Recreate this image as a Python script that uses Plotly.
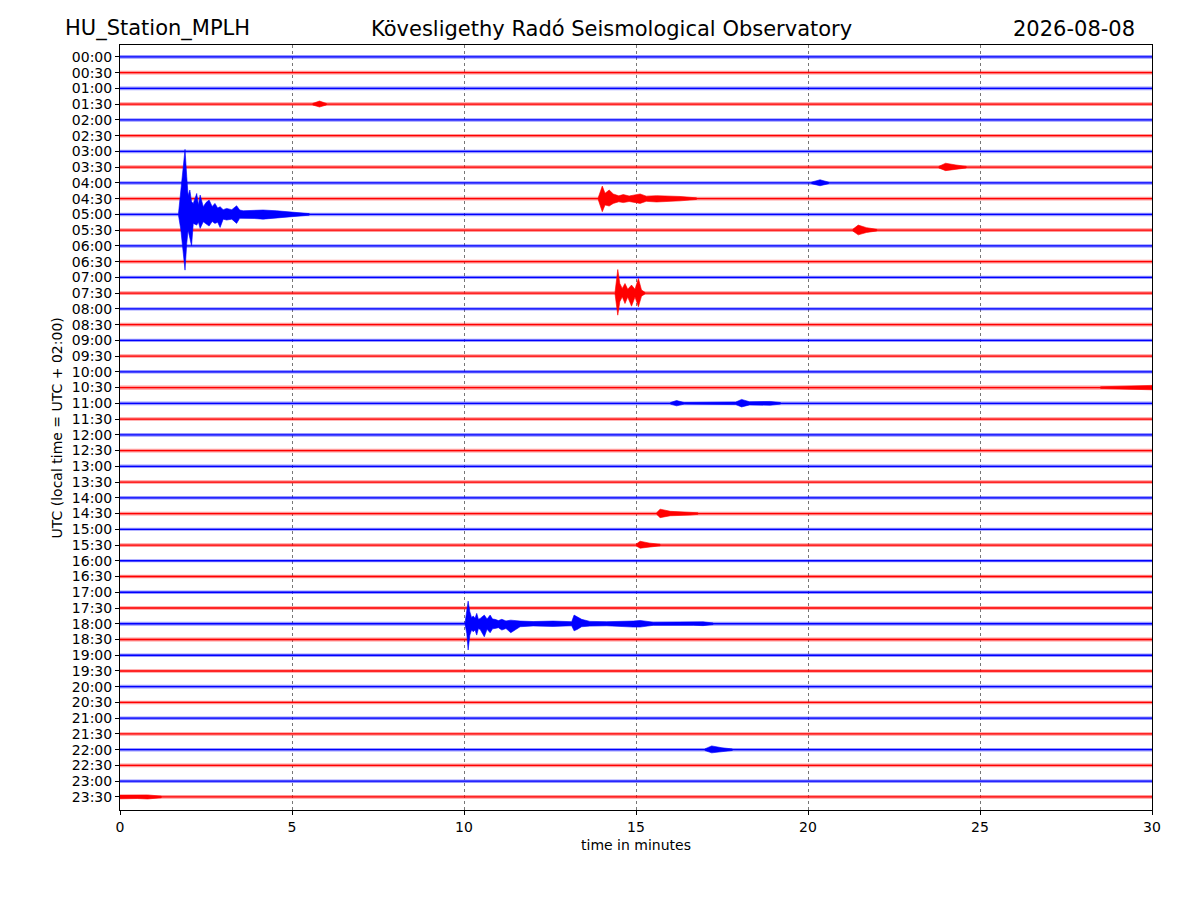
import plotly.graph_objects as go

# helicorder: one trace per half hour, amplitudes in units of line spacing
line_labels = [
    "00:00", "00:30", "01:00", "01:30", "02:00", "02:30", "03:00", "03:30",
    "04:00", "04:30", "05:00", "05:30", "06:00", "06:30", "07:00", "07:30",
    "08:00", "08:30", "09:00", "09:30", "10:00", "10:30", "11:00", "11:30",
    "12:00", "12:30", "13:00", "13:30", "14:00", "14:30", "15:00", "15:30",
    "16:00", "16:30", "17:00", "17:30", "18:00", "18:30", "19:00", "19:30",
    "20:00", "20:30", "21:00", "21:30", "22:00", "22:30", "23:00", "23:30",
]
line_colors = ["#0000ff", "#ff0000"] * 24
fuzz_colors = ["rgba(0,0,255,0.4)", "rgba(255,0,0,0.4)"] * 24

# background noise half-width of every trace
base_noise = [
    0.12, 0.12, 0.12, 0.12, 0.11, 0.11, 0.11, 0.12,
    0.11, 0.12, 0.11, 0.12, 0.11, 0.12, 0.11, 0.12,
    0.11, 0.12, 0.11, 0.11, 0.11, 0.13, 0.12, 0.11,
    0.12, 0.12, 0.11, 0.11, 0.11, 0.12, 0.10, 0.12,
    0.10, 0.11, 0.11, 0.11, 0.12, 0.12, 0.11, 0.11,
    0.12, 0.11, 0.11, 0.11, 0.11, 0.12, 0.11, 0.12,
]

# events: line index, minutes, upward / downward envelope
event_line = [3, 7, 8, 9, 10, 11, 15, 21, 22, 29, 31, 36, 44, 47]
event_t = [
    [5.6, 5.8, 6.0],
    [23.8, 24.0, 24.3, 24.6],
    [20.1, 20.35, 20.6],
    [13.9, 14.02, 14.1, 14.22, 14.34, 14.5, 14.63, 14.8, 15.12, 15.3,
     15.6, 16.28, 16.76],
    [1.7, 1.77, 1.89, 1.94, 1.98, 2.03, 2.08, 2.13, 2.23, 2.28, 2.33, 2.42,
     2.50, 2.59, 2.68, 2.76, 2.84, 2.91, 3.0, 3.10, 3.25, 3.39, 3.48, 3.58,
     3.9, 4.16, 4.55, 5.14, 5.5],
    [21.3, 21.46, 21.7, 22.0],
    [14.39, 14.47, 14.53, 14.60, 14.68, 14.76, 14.87, 14.97, 15.07, 15.16, 15.26],
    [28.5, 29.3, 29.7, 30.0],
    [16.0, 16.18, 16.4, 17.9, 18.07, 18.3, 18.9, 19.2],
    [15.6, 15.7, 16.0, 16.57, 16.8],
    [15.0, 15.12, 15.4, 15.7],
    [10.03, 10.08, 10.12, 10.17, 10.22, 10.27, 10.32, 10.37, 10.42, 10.47,
     10.53, 10.59, 10.67, 10.76, 10.83, 10.90, 11.0, 11.10, 11.22, 11.36,
     11.63, 12.01, 12.59, 13.13, 13.20, 13.29, 13.42, 13.66,
     14.15, 14.92, 15.12, 15.50, 16.67, 16.95, 17.24],
    [17.0, 17.2, 17.5, 17.8],
    [0.0, 0.5, 0.8, 1.2],
]
event_up = [
    [0.05, 0.20, 0.05],
    [0.05, 0.25, 0.14, 0.05],
    [0.05, 0.20, 0.05],
    [0.05, 0.80, 0.34, 0.55, 0.30, 0.18, 0.26, 0.17, 0.30, 0.16,
     0.19, 0.14, 0.05],
    [0.05, 1.55, 4.13, 2.40, 1.20, 1.55, 0.80, 0.70, 1.33, 0.60, 1.23, 0.49,
     0.75, 0.91, 0.50, 0.70, 0.40, 0.49, 0.30, 0.38, 0.30, 0.55, 0.28, 0.23,
     0.27, 0.28, 0.23, 0.13, 0.05],
    [0.05, 0.32, 0.16, 0.05],
    [0.05, 1.50, 0.61, 0.30, 0.61, 0.25, 0.51, 0.25, 0.93, 0.20, 0.05],
    [0.05, 0.10, 0.14, 0.14],
    [0.05, 0.18, 0.05, 0.08, 0.25, 0.10, 0.12, 0.05],
    [0.05, 0.28, 0.14, 0.10, 0.05],
    [0.05, 0.24, 0.12, 0.05],
    [0.05, 0.87, 1.44, 0.76, 0.40, 0.49, 0.35, 0.66, 0.28, 0.34,
     0.45, 0.55, 0.30, 0.55, 0.30, 0.28, 0.20, 0.28, 0.18, 0.23,
     0.17, 0.14, 0.17, 0.13, 0.55, 0.45, 0.28, 0.15,
     0.13, 0.17, 0.21, 0.10, 0.10, 0.12, 0.05],
    [0.05, 0.24, 0.12, 0.05],
    [0.12, 0.10, 0.13, 0.05],
]
event_dn = [
    [0.05, 0.18, 0.05],
    [0.05, 0.22, 0.13, 0.05],
    [0.05, 0.18, 0.05],
    [0.05, 0.83, 0.40, 0.47, 0.30, 0.20, 0.25, 0.18, 0.30, 0.17,
     0.21, 0.14, 0.05],
    [0.05, 1.00, 3.54, 1.84, 1.00, 1.42, 2.00, 0.57, 0.68, 0.50, 0.89, 0.47,
     0.60, 0.74, 0.45, 0.57, 0.50, 0.83, 0.30, 0.36, 0.30, 0.57, 0.25, 0.28,
     0.26, 0.30, 0.23, 0.13, 0.05],
    [0.05, 0.30, 0.15, 0.05],
    [0.05, 1.40, 0.55, 0.23, 0.66, 0.25, 0.83, 0.25, 0.87, 0.20, 0.05],
    [0.05, 0.10, 0.14, 0.14],
    [0.05, 0.16, 0.05, 0.08, 0.23, 0.10, 0.12, 0.05],
    [0.05, 0.26, 0.14, 0.10, 0.05],
    [0.05, 0.20, 0.12, 0.05],
    [0.05, 0.61, 1.67, 0.72, 0.40, 0.51, 0.40, 0.72, 0.30, 0.36,
     0.55, 0.83, 0.35, 0.57, 0.32, 0.30, 0.25, 0.40, 0.30, 0.57,
     0.19, 0.14, 0.17, 0.13, 0.45, 0.36, 0.19, 0.15,
     0.13, 0.21, 0.21, 0.10, 0.10, 0.12, 0.05],
    [0.05, 0.20, 0.11, 0.05],
    [0.12, 0.10, 0.13, 0.05],
]

x_ticks = [0, 5, 10, 15, 20, 25, 30]

fig = go.Figure()

for i, label in enumerate(line_labels):
    # light noise band round the whole trace
    fig.add_trace(go.Scatter(
        x=[0, 30, 30, 0], y=[i - base_noise[i]] * 2 + [i + base_noise[i]] * 2,
        mode="lines", fill="toself", fillcolor=fuzz_colors[i],
        line=dict(width=0), hoverinfo="skip", showlegend=False,
    ))
    # solid core of the trace
    fig.add_trace(go.Scatter(
        x=[0, 30], y=[i, i], mode="lines",
        line=dict(color=line_colors[i], width=1.3),
        hoverinfo="skip", showlegend=False,
    ))

# earthquakes and bursts, drawn solid on top
for k, i in enumerate(event_line):
    t = event_t[k]
    xs = t + t[::-1]
    ys = [i - u for u in event_up[k]] + [i + d for d in event_dn[k][::-1]]
    fig.add_trace(go.Scatter(
        x=xs, y=ys, mode="lines", fill="toself",
        fillcolor=line_colors[i],
        line=dict(color=line_colors[i], width=0.6),
        hoverinfo="skip", showlegend=False,
    ))

fig.update_xaxes(
    range=[0, 30], tickvals=x_ticks, ticks="outside", ticklen=4,
    tickcolor="black", showline=True, linecolor="black", linewidth=1,
    mirror=True, showgrid=True, gridcolor="#777777", gridwidth=0.7,
    griddash="dot", zeroline=False,
    tickfont=dict(family="DejaVu Sans", size=14, color="black"),
)
fig.update_yaxes(
    range=[47.83, -0.76], tickvals=list(range(48)), ticktext=line_labels,
    ticks="outside", ticklen=4, tickcolor="black", showline=True,
    linecolor="black", linewidth=1, mirror=True, showgrid=False,
    zeroline=False,
    tickfont=dict(family="DejaVu Sans", size=14, color="black"),
)

fig.update_layout(
    width=1200, height=900,
    margin=dict(l=112, r=56, t=37, b=98),
    plot_bgcolor="white", paper_bgcolor="white",
    font=dict(family="DejaVu Sans", color="black"),
    annotations=[
        dict(text="HU_Station_MPLH", x=-0.0552, y=1.021, xref="paper",
             yref="paper", xanchor="left", yanchor="middle",
             showarrow=False, font=dict(size=21)),
        dict(text="Kövesligethy Radó Seismological Observatory", x=0.4763,
             y=1.021, xref="paper", yref="paper", xanchor="center",
             yanchor="middle", showarrow=False, font=dict(size=21)),
        dict(text="2026-08-08", x=0.9855, y=1.021, xref="paper",
             yref="paper", xanchor="right", yanchor="middle",
             showarrow=False, font=dict(size=21)),
        dict(text="time in minutes", x=0.5, y=-0.046, xref="paper",
             yref="paper", xanchor="center", yanchor="middle",
             showarrow=False, font=dict(size=14)),
        dict(text="UTC (local time = UTC + 02:00)", x=-0.0611, y=0.5,
             xref="paper", yref="paper", xanchor="center",
             yanchor="middle", textangle=-90, showarrow=False,
             font=dict(size=14)),
    ],
)

fig.write_html("out.html")
